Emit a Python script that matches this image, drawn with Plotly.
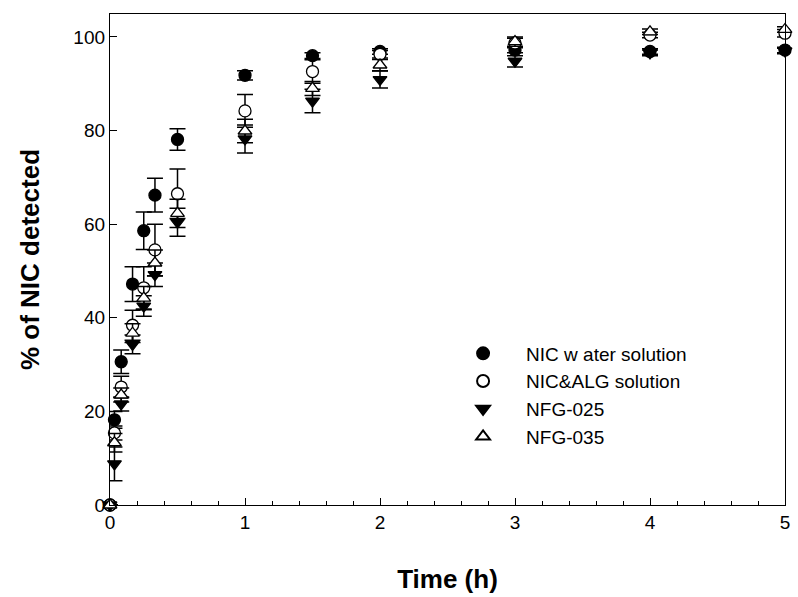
import plotly.graph_objects as go

time_h = [0, 0.033, 0.083, 0.167, 0.25, 0.333, 0.5, 1, 1.5, 2, 3, 4, 5]

water = [0, 18.2, 30.6, 47.2, 58.6, 66.2, 78.1, 91.8, 96.0, 96.9, 97.2, 96.9, 97.2]
water_err = [0, 1.8, 2.5, 3.7, 4.0, 3.6, 2.3, 1.0, 0.6, 0.6, 0.6, 0.6, 0.6]

alg = [0, 15.4, 25.2, 38.4, 46.4, 54.5, 66.5, 84.2, 92.6, 96.3, 98.7, 100.4, 100.8]
alg_err = [0, 1.5, 2.3, 3.2, 4.5, 5.5, 5.3, 3.5, 2.5, 0.8, 1.0, 0.6, 0.8]

nfg025 = [0, 8.8, 21.6, 34.3, 42.5, 49.2, 60.4, 78.2, 86.3, 90.9, 94.8, 96.6, 97.0]
nfg025_err = [0, 3.6, 1.5, 2.0, 2.2, 2.5, 3.0, 3.0, 2.5, 1.8, 1.2, 0.6, 0.6]

nfg035 = [0, 13.3, 23.5, 36.7, 44.2, 51.7, 62.3, 79.9, 89.0, 94.0, 99.0, 101.1, 101.6]
nfg035_err = [0, 2.0, 1.5, 2.0, 2.5, 2.8, 3.0, 2.5, 1.5, 1.2, 1.0, 0.6, 0.6]

names = ["NIC w ater solution", "NIC&ALG solution", "NFG-025", "NFG-035"]

FONT = "Liberation Sans, Arial, sans-serif"

def err(vals):
    return dict(type="data", array=vals, visible=True, color="black",
                thickness=1.5, width=8)

fig = go.Figure()
series = [
    (water, water_err, "circle", "black"),
    (alg, alg_err, "circle", "white"),
    (nfg025, nfg025_err, "triangle-down", "black"),
    (nfg035, nfg035_err, "triangle-up", "white"),
]
for (vals, e, sym, col), nm in zip(series, names):
    fig.add_trace(go.Scatter(
        x=time_h, y=vals, mode="markers", name=nm,
        error_y=err(e),
        marker=dict(symbol=sym, size=12, color=col,
                    line=dict(color="black", width=1.3)),
        cliponaxis=False,
    ))

fig.update_layout(
    width=798, height=597,
    margin=dict(l=110, r=8, t=14, b=92),
    paper_bgcolor="white", plot_bgcolor="white",
    font=dict(family=FONT, color="black", size=18),
    showlegend=True,
    legend=dict(x=0.489, y=0.224, xanchor="left", yanchor="middle",
                bgcolor="rgba(0,0,0,0)", font=dict(size=19, family=FONT),
                itemsizing="constant", itemwidth=76, tracegroupgap=0),
    xaxis=dict(
        range=[0, 5], tickvals=[0, 1, 2, 3, 4, 5],
        ticks="inside", ticklen=7, tickwidth=1.3, tickcolor="black",
        minor=dict(dtick=0.2, ticks="inside", ticklen=4, tickwidth=1, tickcolor="black"),
        showline=True, linecolor="black", linewidth=1.3, mirror=True,
        showgrid=False, zeroline=False,
        tickfont=dict(size=19, family=FONT),
        title=dict(text="<b>Time (h)</b>", font=dict(size=26, family=FONT), standoff=37),
    ),
    yaxis=dict(
        range=[0, 104.9], tickvals=[0, 20, 40, 60, 80, 100],
        ticks="inside", ticklen=7, tickwidth=1.3, tickcolor="black",
        showline=True, linecolor="black", linewidth=1.3, mirror=True,
        showgrid=False, zeroline=False,
        tickfont=dict(size=19, family=FONT),
        title=dict(text="<b>% of NIC detected</b>", font=dict(size=26, family=FONT), standoff=26),
    ),
)

fig.write_html("out.html")
